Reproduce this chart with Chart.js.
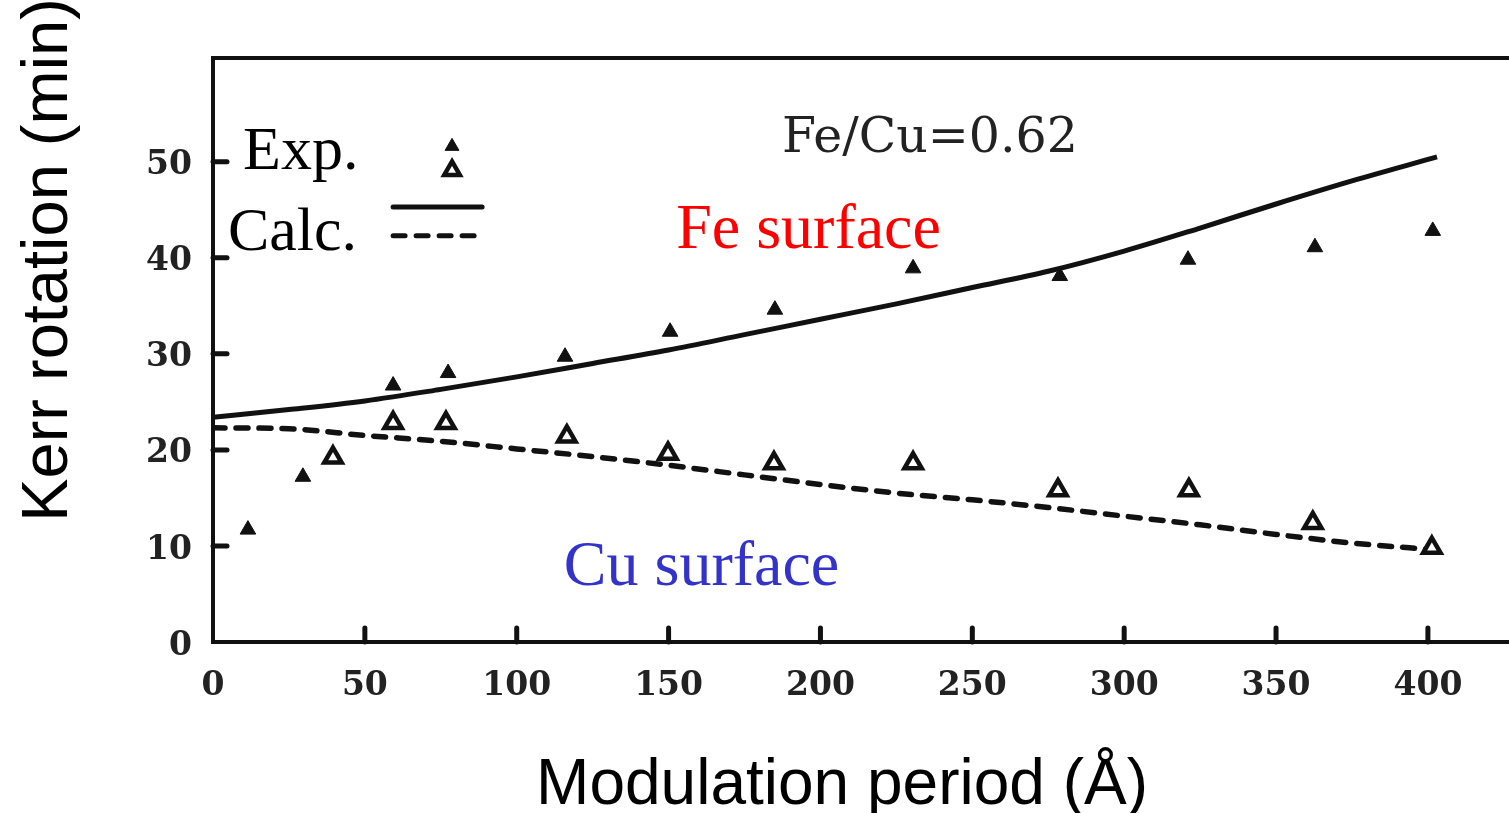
<!DOCTYPE html>
<html>
<head>
<meta charset="utf-8">
<script src="https://cdn.jsdelivr.net/npm/chart.js@4.4.0/dist/chart.umd.min.js"></script>
<style>
  html, body { margin: 0; padding: 0; background: #fff; overflow: hidden; }
  #wrap { width: 1509px; height: 813px; }
  canvas { display: block; }
</style>
</head>
<body>
<div id="wrap"><canvas id="myChart" width="1509" height="813"></canvas></div>
<script>
'use strict';

// Tick labels
const xTicks = [0, 50, 100, 150, 200, 250, 300, 350, 400];
const yTicks = [0, 10, 20, 30, 40, 50];

// Exp. - Fe surface (filled triangles)
const feExpX = [11.5, 29.6, 59.3, 77.4, 115.9, 150.5, 185, 230.5, 278.8, 321, 362.8, 401.6];
const feExpY = [11.7, 17.2, 26.7, 28.0, 29.7, 32.3, 34.6, 38.9, 38.1, 39.8, 41.1, 42.8];

// Exp. - Cu surface (open triangles)
const cuExpX = [39.5, 59.3, 76.7, 116.5, 149.8, 184.7, 230.5, 278.2, 321.3, 362.1, 401.3];
const cuExpY = [19.2, 22.8, 22.8, 21.4, 19.6, 18.6, 18.6, 15.8, 15.8, 12.4, 9.8];

// Calc. - Fe surface (solid)
const feCalcX = [0, 25, 50, 75, 100, 125, 150, 175, 200, 225, 250, 275, 300, 325, 350, 375, 403];
const feCalcY = [23.4, 24.2, 25.1, 26.3, 27.6, 29.0, 30.4, 32.0, 33.6, 35.2, 36.9, 38.6, 40.7, 43.1, 45.6, 48.0, 50.5];

// Calc. - Cu surface (dashed)
const cuCalcX = [0, 25, 50, 75, 100, 125, 150, 175, 200, 225, 250, 275, 300, 325, 350, 375, 402];
const cuCalcY = [22.3, 22.2, 21.5, 20.9, 20.1, 19.3, 18.4, 17.4, 16.4, 15.5, 14.8, 14.0, 13.1, 12.2, 11.2, 10.3, 9.6];

const ink = '#111';
const tickFont = { family: 'DejaVu Serif', size: 33, weight: 'bold' };

function pts(xs, ys) {
  return xs.map((x, i) => ({ x: x, y: ys[i] }));
}

// Dibuja marcas hacia adentro, el marco superior, los textos y la leyenda
const decor = {
  id: 'decor',
  afterDraw(chart) {
    const ctx = chart.ctx;
    const area = chart.chartArea;
    const x = chart.scales.x;
    const y = chart.scales.y;
    ctx.save();
    ctx.strokeStyle = ink;
    ctx.fillStyle = ink;
    ctx.lineWidth = 5;
    ctx.lineCap = 'round';

    // marcas de los ejes
    x.ticks.forEach(t => {
      if (t.value === 0) return;
      const px = x.getPixelForValue(t.value);
      ctx.beginPath();
      ctx.moveTo(px, area.bottom);
      ctx.lineTo(px, area.bottom - 14);
      ctx.stroke();
    });
    y.ticks.forEach(t => {
      if (t.value === 0) return;
      const py = y.getPixelForValue(t.value);
      ctx.beginPath();
      ctx.moveTo(area.left, py);
      ctx.lineTo(area.left + 14, py);
      ctx.stroke();
    });

    // marco superior
    ctx.lineWidth = 4;
    ctx.lineCap = 'butt';
    ctx.beginPath();
    ctx.moveTo(area.left - 2, area.top);
    ctx.lineTo(area.right, area.top);
    ctx.stroke();

    // textos
    ctx.textAlign = 'left';
    ctx.textBaseline = 'alphabetic';
    ctx.fillStyle = '#222';
    ctx.font = '49px "DejaVu Serif"';
    ctx.fillText('Fe/Cu=0.62', x.getPixelForValue(187.3), y.getPixelForValue(51.0));

    ctx.fillStyle = '#ff0000';
    ctx.font = '64px "Liberation Serif"';
    ctx.fillText('Fe surface', x.getPixelForValue(152.5), y.getPixelForValue(41.0));

    ctx.fillStyle = '#3333cc';
    ctx.fillText('Cu surface', x.getPixelForValue(115.5), y.getPixelForValue(5.9));

    ctx.fillStyle = '#000';
    ctx.font = '62px "Liberation Serif"';
    ctx.fillText('Exp.', x.getPixelForValue(9.9), y.getPixelForValue(49.2));
    ctx.fillText('Calc.', x.getPixelForValue(4.9), y.getPixelForValue(40.8));

    // leyenda: triángulos
    const lx = x.getPixelForValue(78.7);
    ctx.fillStyle = ink;
    ctx.strokeStyle = ink;
    ctx.lineWidth = 1;
    Chart.helpers.drawPoint(ctx, { pointStyle: 'triangle', radius: 8, rotation: 0, borderWidth: 1 }, lx, y.getPixelForValue(51.6));
    ctx.fillStyle = '#fff';
    ctx.lineWidth = 4.5;
    Chart.helpers.drawPoint(ctx, { pointStyle: 'triangle', radius: 9, rotation: 0, borderWidth: 4.5 }, lx, y.getPixelForValue(49.1));

    // leyenda: líneas
    ctx.lineWidth = 5;
    ctx.lineCap = 'round';
    ctx.beginPath();
    ctx.moveTo(x.getPixelForValue(59.3), y.getPixelForValue(45.3));
    ctx.lineTo(x.getPixelForValue(88.6), y.getPixelForValue(45.3));
    ctx.stroke();
    ctx.setLineDash([12, 11]);
    ctx.beginPath();
    ctx.moveTo(x.getPixelForValue(59.3), y.getPixelForValue(42.3));
    ctx.lineTo(x.getPixelForValue(88.6), y.getPixelForValue(42.3));
    ctx.stroke();
    ctx.setLineDash([]);

    // títulos de ejes
    ctx.fillStyle = '#000';
    ctx.font = '64px "Liberation Sans"';
    ctx.textAlign = 'center';
    ctx.fillText('Modulation period (Å)', 842, 804);

    ctx.font = '65px "Liberation Sans"';
    ctx.translate(67, 260);
    ctx.rotate(-Math.PI / 2);
    ctx.fillText('Kerr rotation (min)', 0, 0);

    ctx.restore();
  }
};

const ctx = document.getElementById('myChart').getContext('2d');
const myChart = new Chart(ctx, {
  type: 'line',
  data: {
    datasets: [
      {
        label: 'Exp. Fe',
        data: pts(feExpX, feExpY),
        showLine: false,
        pointStyle: 'triangle',
        pointRadius: 9,
        backgroundColor: ink,
        borderColor: ink,
        borderWidth: 1,
        order: 0
      },
      {
        label: 'Exp. Cu',
        data: pts(cuExpX, cuExpY),
        showLine: false,
        pointStyle: 'triangle',
        pointRadius: 10,
        backgroundColor: '#fff',
        borderColor: ink,
        borderWidth: 4.5,
        order: 1
      },
      {
        label: 'Calc. Fe',
        data: pts(feCalcX, feCalcY),
        borderColor: ink,
        borderWidth: 5,
        pointRadius: 0,
        cubicInterpolationMode: 'monotone',
        fill: false,
        order: 2
      },
      {
        label: 'Calc. Cu',
        data: pts(cuCalcX, cuCalcY),
        borderColor: ink,
        borderWidth: 5.5,
        borderDash: [12, 11],
        borderCapStyle: 'round',
        pointRadius: 0,
        cubicInterpolationMode: 'monotone',
        fill: false,
        order: 3
      }
    ]
  },
  options: {
    responsive: false,
    devicePixelRatio: 1,
    animation: false,
    layout: { autoPadding: false, padding: { top: 58, right: 0, bottom: 0, left: 0 } },
    plugins: {
      legend: { display: false },
      tooltip: { enabled: false }
    },
    scales: {
      x: {
        type: 'linear',
        min: 0,
        max: 426.7,
        afterBuildTicks: s => { s.ticks = xTicks.map(v => ({ value: v })); },
        afterFit: s => { s.height = 171; s.paddingLeft = 0; s.paddingRight = 0; },
        grid: { drawOnChartArea: false, drawTicks: false },
        border: { color: ink, width: 4 },
        ticks: { padding: 25, font: tickFont, color: '#222', maxRotation: 0 }
      },
      y: {
        min: 0,
        max: 60.8,
        afterBuildTicks: s => { s.ticks = yTicks.map(v => ({ value: v })); },
        afterFit: s => { s.width = 213; s.paddingTop = 0; s.paddingBottom = 0; },
        grid: { drawOnChartArea: false, drawTicks: false },
        border: { color: ink, width: 4 },
        ticks: { padding: 21, font: tickFont, color: '#222', labelOffset: 4 }
      }
    }
  },
  plugins: [decor]
});
</script>
</body>
</html>
